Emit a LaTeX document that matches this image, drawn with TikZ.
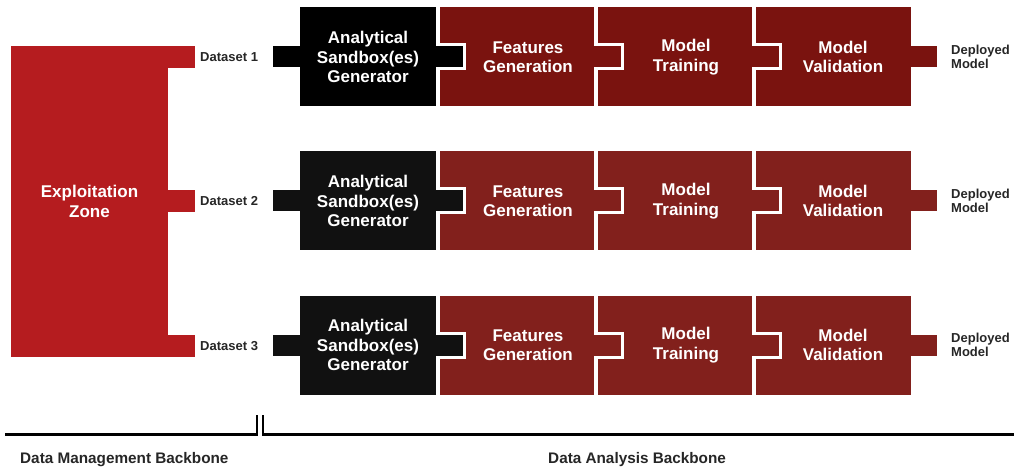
\documentclass[tikz,border=0pt]{standalone}
\usepackage{fontspec}
\setmainfont{Liberation Sans}

\definecolor{zonered}{HTML}{B51C1F}
\definecolor{darkredA}{HTML}{7A130F}
\definecolor{darkredB}{HTML}{82201C}
\definecolor{blackA}{HTML}{000000}
\definecolor{blackB}{HTML}{111111}

\begin{document}
\begin{tikzpicture}[x=1pt,y=-1pt,
    blocktext/.style={inner sep=0pt,text=white,align=center,
      font=\bfseries\fontsize{17}{19.5}\selectfont},
    label/.style={anchor=west,inner sep=0pt,align=left,text=black!85,
      font=\bfseries\fontsize{13}{14.5}\selectfont},
    backbone/.style={anchor=west,inner sep=0pt,text=black!85,
      font=\bfseries\fontsize{15.3}{17}\selectfont},
    rail/.style={line width=2.6pt}]
  \useasboundingbox (0,0) rectangle (1014,470);

  % exploitation zone and its dataset outlets
  \fill[zonered] (11,46) rectangle (168,357);
  \node[blocktext] (zone) at (89.5,201.5) {Exploitation\\Zone};
  \foreach \r/\yc in {1/57,2/201,3/346}{
    \fill[zonered] (167,\yc-11) rectangle (195,\yc+11);
    \node[label] (ds\r) at (200,\yc) {Dataset \r};
  }

  % one pipeline per dataset
  \foreach \r/\yc/\blk/\red in {1/57/blackA/darkredA,2/201/blackB/darkredB,3/345/blackB/darkredB}{
    \fill[\blk] (273,\yc-10.5) rectangle (301,\yc+10.5);
    \fill[\blk] (300,\yc-49.5) rectangle (436,\yc+49.5);
    \foreach \xl/\xr in {440/594,598/752,756/911}
      \fill[\red] (\xl,\yc-49.5) rectangle (\xr,\yc+49.5);
    % puzzle joints: white notch, then the tab of the block before
    \foreach \xa/\xb/\c in {436/440/\blk,594/598/\red,752/756/\red}{
      \fill[white] (\xb-1,\yc-13.5) rectangle (\xb+26,\yc+13.5);
      \fill[\c] (\xa-1,\yc-10.5) rectangle (\xb+23,\yc+10.5);
    }
    \fill[\red] (910,\yc-10.5) rectangle (937,\yc+10.5);
    \node[blocktext] (sbx\r) at (368,\yc) {Analytical\\Sandbox(es)\\Generator};
    \node[blocktext] (feat\r) at (528,\yc) {Features\\Generation};
    \node[blocktext] (train\r) at (686,\yc) {Model\\Training};
    \node[blocktext] (valid\r) at (843,\yc) {Model\\Validation};
    \node[label] (dep\r) at (951,\yc) {Deployed\\Model};
  }

  % backbones
  \draw[rail] (5,434.5) -- (257,434.5) -- (257,415);
  \draw[rail] (263,415) -- (263,434.5) -- (1014,434.5);
  \node[backbone] (dmb) at (20,460) {Data Management Backbone};
  \node[backbone] (dab) at (548,460) {Data Analysis Backbone};
\end{tikzpicture}
\end{document}
